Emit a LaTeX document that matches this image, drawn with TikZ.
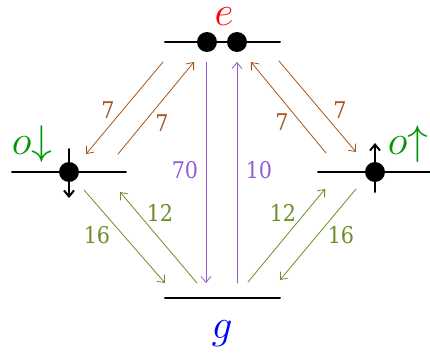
\documentclass[tikz,border=0pt]{standalone}
\usepackage{fontspec}
\setmainfont{DejaVu Serif Condensed}
\usetikzlibrary{arrows.meta}
\definecolor{tbrown}{RGB}{166,86,28}
\definecolor{tviolet}{RGB}{150,90,210}
\definecolor{tolive}{RGB}{110,140,40}
\definecolor{tgreen}{RGB}{0,150,0}
\begin{document}
\begin{tikzpicture}[
  x=0.5pt, y=-0.5pt,
  line cap=round,
  font=\fontsize{11.5}{13}\selectfont,
  level/.style={line width=1pt},
  electron/.style={fill=black},
  spin/.style={line width=1pt, -{Straight Barb[length=3pt,width=5pt]}},
  trans/.style={line width=0.4pt, -{Straight Barb[length=3pt,width=5pt]}},
  statelabel/.style={anchor=base, inner sep=0pt, font=\fontsize{20}{24}\selectfont}
]
  \useasboundingbox (0,0) rectangle (430,354);

  % Niveaus
  \coordinate (e) at (222,42);
  \coordinate (oD) at (69,172);
  \coordinate (oU) at (375,172);
  \coordinate (g) at (222,298);
  \draw[level] (165,42) -- (280,42);
  \draw[level] (12,172) -- (126,172);
  \draw[level] (318,172) -- (430,172);
  \draw[level] (165,298) -- (280,298);

  % Elektronen
  \fill[electron] (207,42) circle (10);
  \fill[electron] (237,42) circle (10);
  \fill[electron] (oD) circle (10);
  \fill[electron] (oU) circle (10);
  \draw[spin] (69,149) -- (69,198);
  \draw[spin] (375,192) -- (375,143);

  % Beschriftung
  \node[statelabel, text=red] (le) at (224,25) {$e$};
  \node[statelabel, text=tgreen] (loD) at (32,154) {$o{\downarrow}$};
  \node[statelabel, text=tgreen] (loU) at (408,154) {$o{\uparrow}$};
  \node[statelabel, text=blue] (lg) at (222,338) {$g$};

  % e <-> o (braun)
  \coordinate (a1) at (163,62);  \coordinate (b1) at (86,154);
  \coordinate (a2) at (118,154); \coordinate (b2) at (194,62);
  \coordinate (a3) at (279,61);  \coordinate (b3) at (356,152);
  \coordinate (a4) at (326,153); \coordinate (b4) at (251,62);
  \draw[trans, tbrown] (a1) -- (b1);
  \draw[trans, tbrown] (a2) -- (b2);
  \draw[trans, tbrown] (a3) -- (b3);
  \draw[trans, tbrown] (a4) -- (b4);
  \node[text=tbrown] (n1) at (108,110) {7};
  \node[text=tbrown] (n2) at (162,123) {7};
  \node[text=tbrown] (n3) at (340,110) {7};
  \node[text=tbrown] (n4) at (282,122) {7};

  % e <-> g (violett)
  \coordinate (a5) at (206,62);  \coordinate (b5) at (206,283);
  \coordinate (a6) at (237,283); \coordinate (b6) at (237,62);
  \draw[trans, tviolet] (a5) -- (b5);
  \draw[trans, tviolet] (a6) -- (b6);
  \node[text=tviolet] (n5) at (185,170) {70};
  \node[text=tviolet] (n6) at (259,170) {10};

  % o <-> g (oliv)
  \coordinate (a7) at (84,190);   \coordinate (b7) at (165,283);
  \coordinate (a8) at (197,283);  \coordinate (b8) at (120,192);
  \coordinate (a9) at (248,282);  \coordinate (b9) at (325,189);
  \coordinate (a10) at (356,189); \coordinate (b10) at (280,280);
  \draw[trans, tolive] (a7) -- (b7);
  \draw[trans, tolive] (a8) -- (b8);
  \draw[trans, tolive] (a9) -- (b9);
  \draw[trans, tolive] (a10) -- (b10);
  \node[text=tolive] (n7) at (97,235) {16};
  \node[text=tolive] (n8) at (160,213) {12};
  \node[text=tolive] (n9) at (283,213) {12};
  \node[text=tolive] (n10) at (341,235) {16};
\end{tikzpicture}
\end{document}
